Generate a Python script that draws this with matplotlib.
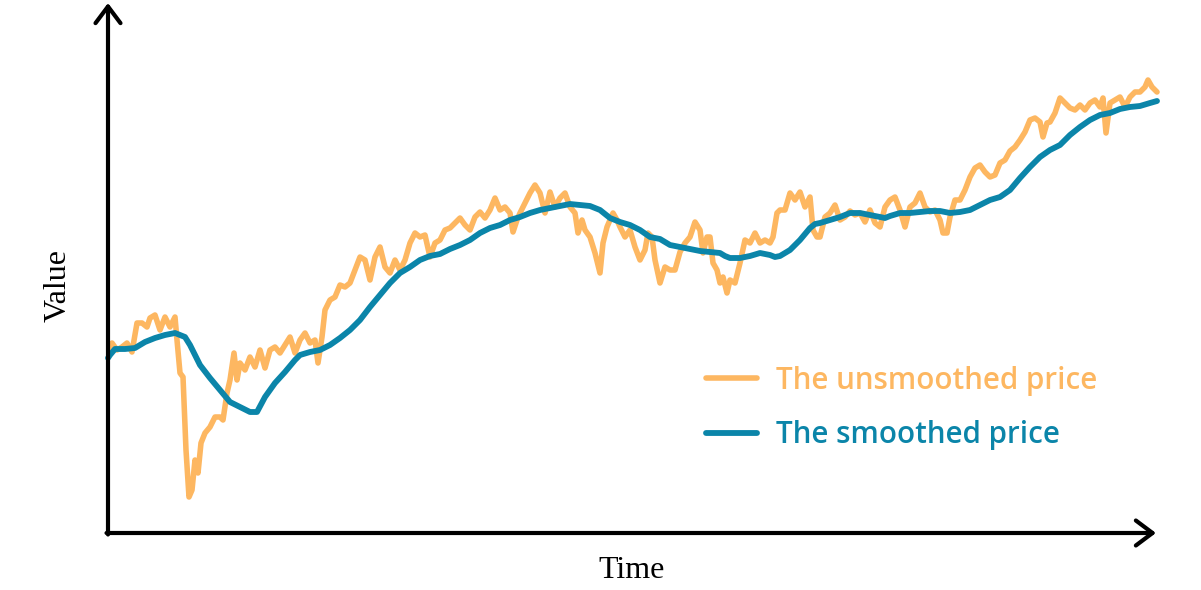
import matplotlib
matplotlib.use("Agg")
import matplotlib.pyplot as plt

# time index and value
t_raw = [2, 4, 9, 14, 19, 24, 29, 34, 39, 42, 47, 52, 57, 62, 67, 69, 72, 75, 78, 81,
         84, 87, 90, 93, 97, 102, 107, 112, 115, 119, 122, 126, 129, 132, 137, 142, 147, 152, 157, 162,
         167, 172, 177, 182, 187, 192, 197, 202, 207, 210, 214, 217, 222, 227, 232, 237, 242, 247, 252, 257,
         262, 267, 272, 277, 282, 287, 292, 297, 302, 307, 312, 317, 322, 327, 332, 337, 342, 347, 352, 357,
         362, 367, 372, 377, 382, 387, 392, 397, 402, 405, 409, 412, 417, 422, 427, 432, 437, 442, 447, 452,
         457, 462, 467, 470, 474, 477, 482, 487, 492, 495, 499, 502, 505, 509, 512, 517, 522, 527, 532, 537,
         540, 544, 547, 552, 557, 562, 567, 572, 577, 582, 587, 592, 595, 599, 602, 605, 609, 612, 615, 619,
         622, 627, 632, 637, 642, 647, 652, 657, 662, 665, 669, 672, 677, 682, 687, 692, 697, 702, 705, 709,
         712, 717, 722, 727, 732, 737, 742, 747, 752, 757, 762, 767, 772, 777, 782, 787, 792, 797, 802, 807,
         812, 817, 822, 827, 832, 835, 839, 842, 847, 852, 857, 862, 867, 872, 877, 882, 887, 892, 897, 902,
         907, 912, 917, 922, 927, 932, 935, 939, 942, 947, 952, 957, 962, 967, 972, 977, 982, 987, 992, 995,
         998, 1002, 1007, 1012, 1017, 1022, 1027, 1032, 1037, 1040, 1044, 1049]
price_raw = [185, 190, 183, 186, 190, 181, 210, 210, 206, 215, 218, 203, 216, 206, 216, 193, 160, 156, 83, 36,
             43, 73, 60, 90, 100, 106, 116, 116, 113, 140, 153, 180, 153, 170, 163, 176, 166, 183, 165, 183,
             186, 180, 188, 196, 180, 193, 200, 190, 193, 170, 196, 223, 233, 236, 248, 246, 250, 263, 276, 273,
             253, 276, 286, 266, 260, 273, 263, 273, 290, 300, 296, 298, 276, 290, 293, 303, 305, 310, 315, 308,
             303, 316, 321, 315, 323, 335, 323, 326, 320, 301, 313, 320, 330, 340, 348, 340, 320, 341, 326, 335,
             340, 326, 320, 300, 313, 303, 296, 280, 260, 290, 306, 313, 320, 313, 306, 296, 303, 286, 273, 283,
             300, 296, 273, 250, 266, 263, 263, 281, 290, 296, 311, 303, 280, 296, 296, 270, 263, 250, 256, 240,
             253, 250, 270, 293, 290, 300, 290, 293, 290, 296, 320, 323, 323, 340, 333, 341, 326, 336, 303, 296,
             296, 316, 320, 328, 313, 316, 322, 318, 320, 311, 323, 310, 306, 326, 333, 336, 323, 306, 326, 330,
             340, 326, 321, 323, 313, 300, 300, 316, 333, 333, 343, 356, 365, 368, 361, 356, 358, 370, 373, 382,
             386, 393, 401, 413, 415, 411, 396, 410, 411, 420, 435, 430, 425, 423, 428, 423, 430, 433, 426, 435,
             400, 430, 433, 436, 426, 436, 441, 441, 446, 453, 446, 441]

t_smooth = [0, 2, 7, 17, 27, 37, 47, 57, 67, 77, 82, 92, 102, 112, 122, 132, 142, 149, 157, 167,
            177, 187, 192, 202, 212, 222, 232, 242, 252, 262, 272, 282, 292, 302, 312, 322, 332, 342, 352, 362,
            372, 382, 392, 402, 412, 422, 432, 442, 452, 462, 472, 482, 492, 502, 512, 522, 532, 542, 552, 562,
            572, 582, 592, 602, 612, 617, 622, 632, 642, 652, 662, 667, 672, 682, 692, 702, 707, 712, 722, 732,
            742, 752, 762, 772, 777, 782, 792, 802, 812, 822, 832, 842, 852, 862, 872, 882, 892, 902, 912, 922,
            932, 942, 952, 962, 972, 982, 992, 1002, 1012, 1022, 1032, 1042, 1049]
price_smooth = [175, 178, 184, 184, 185, 191, 195, 198, 200, 196, 188, 168, 155, 143, 131, 126, 121, 121, 136, 150,
                161, 173, 178, 181, 183, 188, 195, 203, 213, 226, 238, 250, 260, 266, 273, 277, 279, 284, 288, 293,
                300, 305, 308, 313, 316, 320, 323, 325, 327, 329, 328, 327, 323, 315, 311, 308, 303, 296, 294, 288,
                286, 284, 282, 281, 280, 277, 275, 275, 277, 280, 278, 276, 277, 283, 293, 305, 309, 310, 313, 316,
                320, 320, 318, 316, 315, 317, 320, 320, 321, 322, 322, 320, 321, 323, 328, 333, 336, 343, 355, 366,
                376, 383, 388, 398, 406, 413, 418, 420, 424, 426, 427, 430, 432]

orange = "#FDB761"
teal = "#0B85A9"

fig = plt.figure(figsize=(12.01, 5.90), dpi=100)
ax = fig.add_axes([0, 0, 1, 1])
ax.set_xlim(-108, 1093)
ax.set_ylim(-57, 533)
ax.axis("off")

ax.plot(t_raw, price_raw, color=orange, lw=4, solid_capstyle="round", solid_joinstyle="round",
        label="The unsmoothed price")
ax.plot(t_smooth, price_smooth, color=teal, lw=4.2, solid_capstyle="round", solid_joinstyle="round",
        label="The smoothed price")

arw = dict(arrowstyle="->,head_length=0.6,head_width=0.45", lw=3, color="black", mutation_scale=20,
           shrinkA=0, shrinkB=0)
ax.annotate("", xy=(1048, 0), xytext=(-1.5, 0), arrowprops=arw)
ax.annotate("", xy=(0, 530), xytext=(0, -1.5), arrowprops=arw)

ax.text(-50, 248, "Value", rotation=90, ha="center", va="center", fontsize=23, family="Liberation Serif")
ax.text(524, -37, "Time", ha="center", va="center", fontsize=23, family="Liberation Serif")

leg = ax.legend(loc="center left", bbox_to_anchor=(0.5875, 0.3085), bbox_transform=fig.transFigure,
                frameon=False, handlelength=1.75, handletextpad=0.63, labelspacing=0.83,
                borderpad=0, borderaxespad=0,
                prop=dict(family="Open Sans", weight="semibold", size=21.3),
                labelcolor="linecolor")

fig.savefig("out.png", dpi=100)
